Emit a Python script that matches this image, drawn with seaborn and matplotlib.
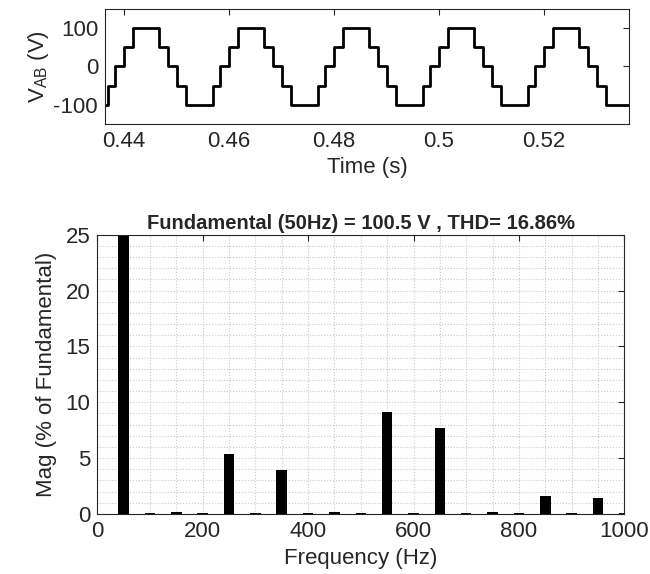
import numpy as np
import pandas as pd
import matplotlib
matplotlib.use("Agg")
import matplotlib.pyplot as plt
from matplotlib.ticker import MultipleLocator
import seaborn as sns

# Data: staircase voltage (one period pattern, per cycle)
cycle_start = [0.44, 0.46, 0.48, 0.50, 0.52]
step_offset = [-0.0030, -0.0017, 0.0, 0.0018, 0.0067, 0.0084, 0.0102, 0.0118]
step_level = [-50, 0, 50, 100, 50, 0, -50, -100]
t_first, t_last = 0.4364, 0.5362

# Data: harmonic spectrum (% of fundamental)
freq_hz = [50, 100, 150, 200, 250, 300, 350, 400, 450, 500,
           550, 600, 650, 700, 750, 800, 850, 900, 950, 1000]
mag_pct = [100, 0.05, 0.18, 0.05, 5.35, 0.06, 3.9, 0.05, 0.18, 0.05,
           9.1, 0.06, 7.7, 0.05, 0.18, 0.05, 1.6, 0.05, 1.45, 0.05]

title_txt = "Fundamental (50Hz) = 100.5 V , THD= 16.86%"

sns.set_style("white")
plt.rcParams["font.family"] = ["Liberation Sans", "DejaVu Sans"]
plt.rcParams["mathtext.fontset"] = "custom"
plt.rcParams["mathtext.rm"] = "Liberation Sans"
plt.rcParams["axes.unicode_minus"] = False

# waveform table
t = [t_first]
v = [-100]
for c in cycle_start:
    for off, lvl in zip(step_offset, step_level):
        t.append(round(c + off, 5))
        v.append(lvl)
t.append(t_last)
v.append(-100)
wave = pd.DataFrame({"time": t, "volt": v})
spec = pd.DataFrame({"freq": freq_hz, "mag": mag_pct})

fig = plt.figure(figsize=(6.5, 5.74), dpi=100)
ax1 = fig.add_axes([0.1615, 0.784, 0.806, 0.2003])
ax2 = fig.add_axes([0.1497, 0.1045, 0.8108, 0.4866])

edge = "#262626"
fs = 16

# top plot
sns.lineplot(data=wave, x="time", y="volt", ax=ax1, color="black",
             linewidth=2.0, drawstyle="steps-post", estimator=None, sort=False)
ax1.set_xlim(t_first, t_last)
ax1.set_ylim(-150, 150)
ax1.set_xticks([0.44, 0.46, 0.48, 0.50, 0.52])
ax1.set_xticklabels(["0.44", "0.46", "0.48", "0.5", "0.52"])
ax1.set_yticks([-100, 0, 100])
ax1.set_xlabel("Time (s)", fontsize=fs, labelpad=4)
ax1.set_ylabel(r"V$_{\mathrm{AB}}$ (V)", fontsize=fs, labelpad=2)

# bottom plot
sns.barplot(data=spec, x="freq", y="mag", ax=ax2, native_scale=True,
            width=0.4, color="black", edgecolor="black", linewidth=0,
            saturation=1, errorbar=None)
ax2.set_xlim(0, 1000)
ax2.set_ylim(0, 25)
ax2.set_xticks([0, 200, 400, 600, 800, 1000])
ax2.set_xticklabels(["0", "200", "400", "600", "800", "1000"])
ax2.set_yticks([0, 5, 10, 15, 20, 25])
ax2.xaxis.set_minor_locator(MultipleLocator(50))
ax2.yaxis.set_minor_locator(MultipleLocator(1))
ax2.grid(True, which="both", linestyle=":", color="#c8c8c8", linewidth=0.8)
ax2.set_axisbelow(True)
ax2.set_xlabel("Frequency (Hz)", fontsize=fs, labelpad=4)
ax2.set_ylabel("Mag (% of Fundamental)", fontsize=fs, labelpad=6)
ax2.set_title(title_txt, fontsize=14.5, fontweight="bold", pad=4)

for ax in (ax1, ax2):
    ax.tick_params(direction="in", top=True, right=True, length=4,
                   width=0.8, color=edge, labelsize=fs, pad=5)
    ax.tick_params(which="minor", length=0)
    for s in ax.spines.values():
        s.set_color(edge)
        s.set_linewidth(0.8)

fig.savefig("out.png", dpi=100)
